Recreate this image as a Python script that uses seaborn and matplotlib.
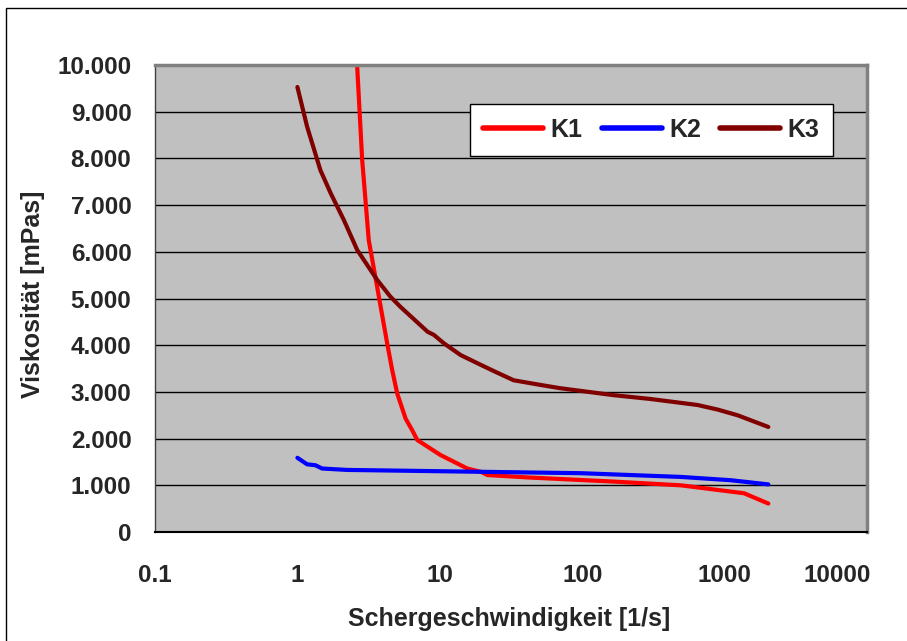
import seaborn as sns
import matplotlib.pyplot as plt
import matplotlib.patches as mpatches
import matplotlib.transforms as mtransforms
from matplotlib.ticker import FuncFormatter, FixedLocator, NullLocator
import pandas as pd

# -----------------------
# Data
# -----------------------
k1_rate = [2.4, 2.63, 2.85, 3.17, 3.63, 4.27, 4.63, 5.02, 5.75, 6.4, 6.95, 10.1, 15.6, 19.4, 21.6, 41, 167, 494, 1370, 2028]
k1_visc = [11000, 9960, 7970, 6250, 5250, 4040, 3470, 2970, 2430, 2180, 1970, 1650, 1360, 1290, 1220, 1170, 1080, 1000, 830, 610]

k2_rate = [1.0, 1.17, 1.34, 1.49, 2.23, 6.6, 19.4, 98, 494, 1100, 2028]
k2_visc = [1590, 1450, 1430, 1360, 1330, 1310, 1290, 1260, 1180, 1110, 1020]

k3_rate = [1.0, 1.17, 1.45, 1.71, 2.12, 2.63, 3.63, 4.5, 5.3, 8.2, 9.1, 10.7, 14, 19.4, 25, 33, 51, 70, 167, 300, 647, 900, 1235, 2028]
k3_visc = [9530, 8680, 7750, 7260, 6680, 6040, 5400, 5040, 4820, 4290, 4220, 4040, 3790, 3580, 3420, 3250, 3150, 3080, 2930, 2850, 2720, 2620, 2500, 2250]

series_names = ["K1", "K2", "K3"]
series_colors = ["#FF0000", "#0000FF", "#800000"]
x_ticks = [0.1, 1, 10, 100, 1000, 10000]
x_tick_labels = ["0.1", "1", "10", "100", "1000", "10000"]
y_ticks = list(range(0, 10001, 1000))

frames = []
for name, rate, visc in zip(series_names, [k1_rate, k2_rate, k3_rate], [k1_visc, k2_visc, k3_visc]):
    frames.append(pd.DataFrame({"rate": rate, "visc": visc, "Serie": name}))
df = pd.concat(frames, ignore_index=True)

# -----------------------
# Plot
# -----------------------
sns.set_style("white")
plt.rcParams["font.family"] = ["Liberation Sans", "DejaVu Sans"]
plt.rcParams["font.weight"] = "bold"

fig = plt.figure(figsize=(9.07, 6.41), dpi=100)
ax = fig.add_axes([0.1709, 0.170, 0.7850, 0.7285])
ax.set_facecolor("#C0C0C0")
ax.set_xscale("log")

sns.lineplot(
    data=df, x="rate", y="visc", hue="Serie",
    palette=dict(zip(series_names, series_colors)),
    estimator=None, sort=False, linewidth=3, ax=ax,
)
for ln in ax.get_lines():
    ln.set_solid_joinstyle("round")
    ln.set_solid_capstyle("round")

ax.set_xlim(0.1, 10000)
ax.set_ylim(0, 10000)

ax.xaxis.set_major_locator(FixedLocator(x_ticks))
ax.xaxis.set_minor_locator(NullLocator())
ax.set_xticklabels(x_tick_labels)
ax.yaxis.set_major_locator(FixedLocator(y_ticks))
ax.yaxis.set_major_formatter(FuncFormatter(lambda v, p: f"{int(v):,}".replace(",", ".")))

ax.grid(axis="y", color="black", linewidth=1)
ax.grid(axis="x", visible=False)
ax.set_axisbelow(True)

ax.tick_params(axis="x", direction="out", length=6, width=1, color="black",
               labelsize=17.5, pad=17)
ax.tick_params(axis="y", direction="out", length=6, width=1, color="black",
               labelsize=17.5, pad=11)
for lbl in ax.get_xticklabels() + ax.get_yticklabels():
    lbl.set_fontweight("bold")
# last x label sits pulled in from the right edge
last = ax.get_xticklabels()[-1]
last.set_transform(last.get_transform() + mtransforms.ScaledTranslation(-30 / 100, 0, fig.dpi_scale_trans))

for side in ["top", "right"]:
    ax.spines[side].set_color("#808080")
    ax.spines[side].set_linewidth(2.5)
ax.spines["left"].set_color("#404040")
ax.spines["left"].set_linewidth(1)
ax.spines["bottom"].set_color("black")
ax.spines["bottom"].set_linewidth(1.5)

ax.set_xlabel("Schergeschwindigkeit [1/s]", fontsize=18, fontweight="bold")
ax.set_ylabel("Viskosität [mPas]", fontsize=18, fontweight="bold")
ax.xaxis.set_label_coords(0.497, -0.161)
ax.yaxis.set_label_coords(-0.154, 0.51)

leg = ax.legend(
    loc="upper right", bbox_to_anchor=(0.952, 0.9165), ncol=3,
    frameon=True, fancybox=False, borderaxespad=0, handlelength=2.4,
    columnspacing=0.75, handletextpad=0.3, borderpad=0.55,
    prop={"size": 18, "weight": "bold"},
)
leg.get_frame().set_edgecolor("black")
leg.get_frame().set_linewidth(1)
leg.get_frame().set_facecolor("white")
leg.get_frame().set_alpha(1)
for h in leg.get_lines():
    h.set_linewidth(4)
    h.set_solid_capstyle("round")

# outer chart frame (extends beyond right/bottom edges)
frame = mpatches.Rectangle((6 / 907, -0.2), 1.2, 1.2 - 8 / 641, transform=fig.transFigure,
                           fill=False, edgecolor="black", linewidth=1)
fig.patches.append(frame)

plt.savefig("out.png", dpi=100)
plt.close()
